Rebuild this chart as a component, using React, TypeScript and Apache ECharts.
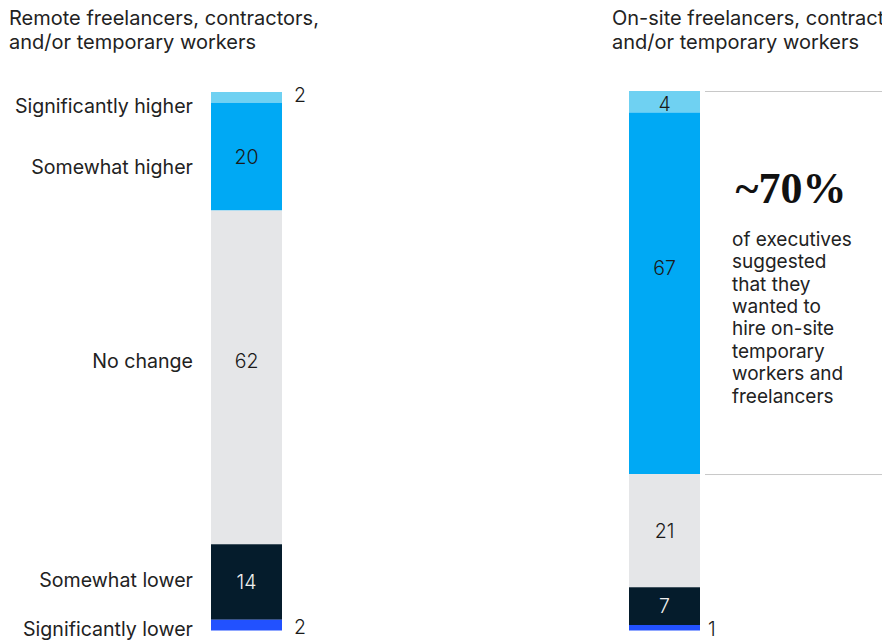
import React, { useEffect, useRef } from "react";
import * as echarts from "echarts";

const categories = ["Significantly higher", "Somewhat higher", "No change", "Somewhat lower", "Significantly lower"];
const remoteValues = [2, 20, 62, 14, 2];
const onsiteValues = [4, 67, 21, 7, 1];
const segmentColors = ["#6fd1f2", "#00a9f4", "#e5e6e8", "#051c2c", "#2251ff"];
const labelColors = ["#1a1a1a", "#1a1a1a", "#1a1a1a", "#f0f0f0", "#1a1a1a"];
const titles = [
  "Remote freelancers, contractors,\nand/or temporary workers",
  "On-site freelancers, contractors,\nand/or temporary workers",
];
const calloutValue = "~70%";
const calloutText = "of executives\nsuggested\nthat they\nwanted to\nhire on-site\ntemporary\nworkers and\nfreelancers";
const calloutSpan = 71; // share covered by the bracket (higher + somewhat higher)

// label vertical nudges (px), kept apart from the data
const remoteLabelNudge = [-2, 0, -16, 0, 2];
const onsiteLabelNudge = [2, -25, 0, 0, 1];

const FONT = "Inter, 'Noto Sans', sans-serif";

export default function App() {
  const ref = useRef<HTMLDivElement>(null);
  useEffect(() => {
    document.body.style.margin = "0";
    if (!ref.current) return;
    const chart = echarts.init(ref.current, undefined, { renderer: "svg" });

    const mkSeries = (vals: number[], idx: number, stack: string, outsideDist: number, nudge: number[]) =>
      vals.map((v, i) => ({
        type: "bar",
        name: categories[i],
        stack,
        xAxisIndex: idx,
        yAxisIndex: idx,
        barWidth: "100%",
        itemStyle: { color: segmentColors[i] },
        data: [
          {
            value: v,
            label:
              v < 3
                ? { show: true, position: "right", distance: outsideDist, color: "#1a1a1a", offset: [0, nudge[i]] }
                : { show: true, position: "inside", color: labelColors[i], offset: [0, nudge[i]] },
          },
        ],
        label: { fontFamily: FONT, fontSize: 19.5, fontWeight: 300 },
      }));

    const catLabelY = [106, 167, 361, 580, 629];

    chart.setOption({
      animation: false,
      title: [
        {
          text: titles[0],
          left: 9,
          top: 6,
          padding: 0,
          textStyle: { fontFamily: FONT, fontSize: 20, fontWeight: 400, color: "#222", lineHeight: 24 },
        },
        {
          text: titles[1],
          left: 612,
          top: 6,
          padding: 0,
          textStyle: { fontFamily: FONT, fontSize: 20, fontWeight: 400, color: "#222", lineHeight: 24 },
        },
      ],
      grid: [
        { left: 211, width: 71, top: 92, height: 538.5 },
        { left: 629, width: 71, top: 91, height: 539.5 },
      ],
      xAxis: [
        { type: "category", data: [""], gridIndex: 0, show: false },
        { type: "category", data: [""], gridIndex: 1, show: false },
      ],
      yAxis: [
        { type: "value", min: 0, max: 100, inverse: true, gridIndex: 0, show: false },
        { type: "value", min: 0, max: 100, inverse: true, gridIndex: 1, show: false },
      ],
      series: [
        ...mkSeries(remoteValues, 0, "remote", 12, remoteLabelNudge),
        ...mkSeries(onsiteValues, 1, "onsite", 8, onsiteLabelNudge),
      ],
    });

    const yTop = chart.convertToPixel({ yAxisIndex: 1 }, 0) as number;
    const yBot = chart.convertToPixel({ yAxisIndex: 1 }, calloutSpan) as number;

    chart.setOption({
      graphic: [
        ...categories.map((c, i) => ({
          type: "text",
          x: 193,
          y: catLabelY[i],
          style: {
            text: c,
            fontFamily: FONT,
            fontSize: 19.6,
            fill: "#222",
            align: "right",
            verticalAlign: "middle",
          },
        })),
        {
          type: "line",
          shape: { x1: 705, y1: yTop + 0.5, x2: 882, y2: yTop + 0.5 },
          style: { stroke: "#c8c8c8", lineWidth: 1 },
        },
        {
          type: "line",
          shape: { x1: 705, y1: yBot + 0.5, x2: 882, y2: yBot + 0.5 },
          style: { stroke: "#c8c8c8", lineWidth: 1 },
        },
        {
          type: "text",
          x: 791,
          y: 188,
          style: {
            text: calloutValue,
            fontFamily: "'Liberation Serif', 'DejaVu Serif', serif",
            fontWeight: "bold",
            fontSize: 44,
            fill: "#111",
            align: "center",
            verticalAlign: "middle",
          },
        },
        {
          type: "text",
          x: 732,
          y: 228,
          style: {
            text: calloutText,
            fontFamily: FONT,
            fontSize: 19,
            lineHeight: 22.4,
            fill: "#222",
            align: "left",
            verticalAlign: "top",
          },
        },
      ],
    });

    return () => chart.dispose();
  }, []);
  return <div ref={ref} style={{ width: 882, height: 640 }} />;
}
